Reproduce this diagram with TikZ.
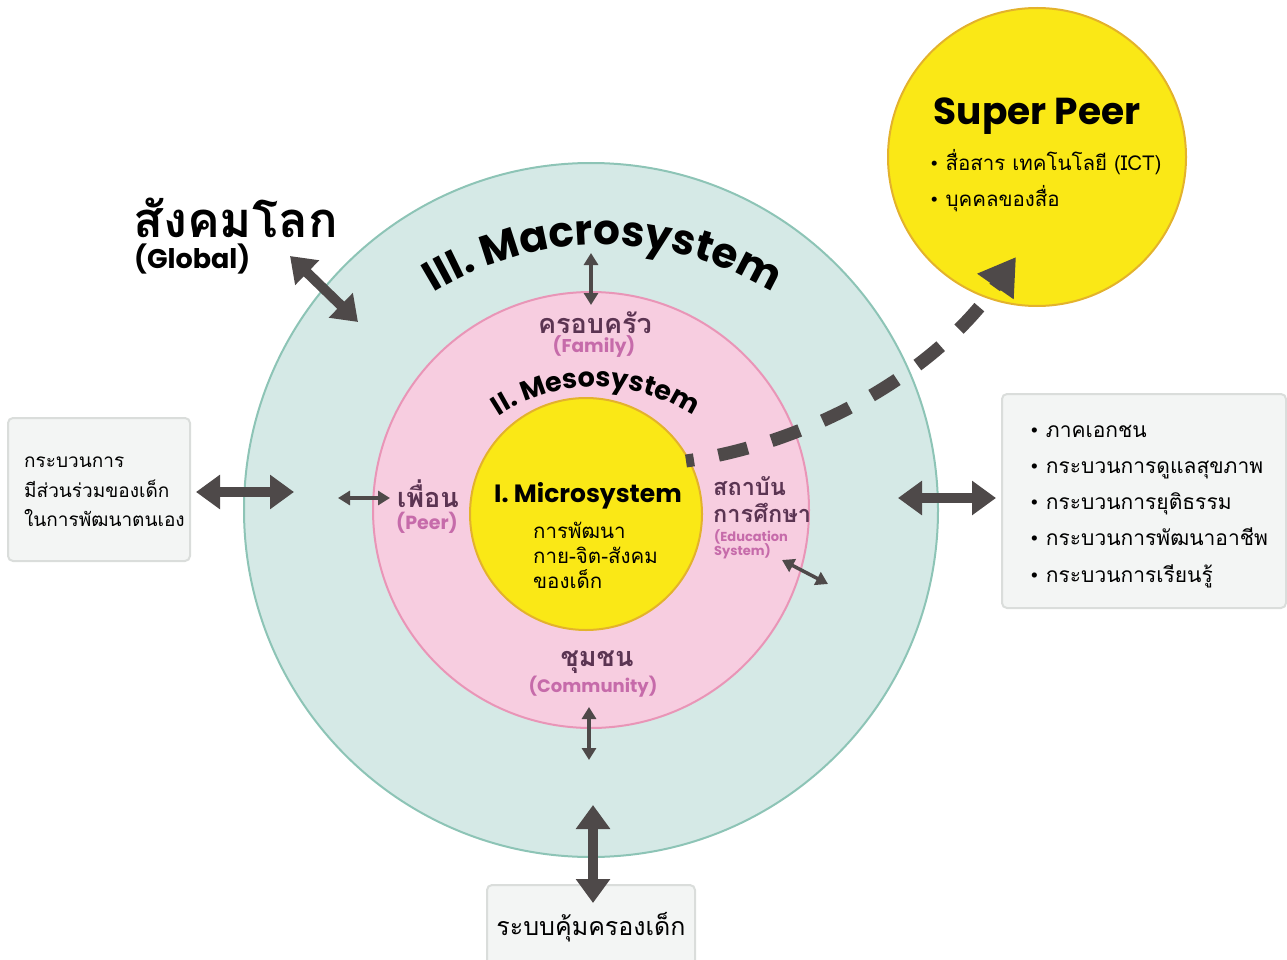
\documentclass[tikz,border=0pt]{standalone}
\usepackage{fontspec}
\setmainfont{Poppins}
\newfontfamily\thai[Script=Thai]{Loma}
\usetikzlibrary{arrows.meta,decorations.text}

\definecolor{macrofill}{HTML}{D5E9E6}
\definecolor{macroline}{HTML}{8DC4B6}
\definecolor{mesofill}{HTML}{F7CDE0}
\definecolor{mesoline}{HTML}{E995B7}
\definecolor{microfill}{HTML}{FAE816}
\definecolor{microline}{HTML}{E3B22C}
\definecolor{arrowgray}{HTML}{4E4949}
\definecolor{plum}{HTML}{5B3452}
\definecolor{orchid}{HTML}{C66BAA}
\definecolor{boxfill}{HTML}{F3F5F4}
\definecolor{boxline}{HTML}{DADDDB}

\newcommand{\fs}[1]{\fontsize{#1}{#1}\selectfont}
\newcommand{\bul}{{\normalfont\textbullet}}

\tikzset{
  ring/.style={circle, inner sep=0pt, line width=2pt},
  infobox/.style={draw=boxline, fill=boxfill, line width=2pt, rounded corners=5pt},
  bigarrow/.style={draw=arrowgray, line width=10pt,
    {Triangle[length=24pt,width=33pt]}-{Triangle[length=24pt,width=33pt]}},
  smallarrow/.style={draw=arrowgray, line width=3.5pt,
    {Triangle[length=12pt,width=14pt]}-{Triangle[length=12pt,width=14pt]}},
  thailabel/.style={text=plum, font=\thai\bfseries\fs{27}, inner sep=0pt, anchor=base},
  englabel/.style={text=orchid, font=\bfseries\fs{18}, inner sep=0pt, anchor=base},
  plain/.style={text=black, inner sep=0pt, anchor=base west},
}

\begin{document}
\begin{tikzpicture}[x=1pt,y=1pt]
\useasboundingbox (0,0) rectangle (1287,-960);

% nested system circles
\node[ring, draw=macroline, fill=macrofill, minimum size=694pt] (macro) at (591,-510) {};
\node[ring, draw=mesoline, fill=mesofill, minimum size=436pt] (meso) at (591,-510) {};
\node[ring, draw=microline, fill=microfill, minimum size=232pt] (micro) at (586,-514) {};

% super peer circle
\node[ring, draw=microline, fill=microfill, minimum size=298pt] (sp) at (1037,-157) {};

% side boxes
\draw[infobox] (8,-418) rectangle (190,-561);
\node[inner sep=0pt] (lbox) at (99,-489.5) {};
\draw[infobox] (1002,-394) rectangle (1286,-608);
\node[inner sep=0pt] (rbox) at (1144,-501) {};
\draw[infobox] (487,-885) rectangle (695,-975);
\node[inner sep=0pt] (bbox) at (591,-922) {};

% curved titles
\path[decorate, decoration={text along path, text align=center,
  text={|\bfseries\fs{42}|III. Macrosystem}}]
  (603,-570) ++(165:325pt) arc[start angle=165, end angle=15, radius=325pt];
\path[decorate, decoration={text along path, text align=center,
  text={|\bfseries\fs{27}|II. Mesosystem}}]
  (596,-565) ++(170:178pt) arc[start angle=170, end angle=10, radius=178pt];

% global label
\node[plain, font=\thai\bfseries\fs{49}] (glob) at (133,-237) {สังคมโลก};
\node[plain, font=\bfseries\fs{27}] (globen) at (134,-268) {(Global)};

% mesosystem members
\node[thailabel] (fam) at (595,-333) {ครอบครัว};
\node[englabel, font=\bfseries\fs{18.5}] (famen) at (594,-352) {(Family)};
\node[thailabel] (peer) at (428,-507) {เพื่อน};
\node[englabel, font=\bfseries\fs{19}] (peeren) at (427,-529) {(Peer)};
\node[thailabel, anchor=base west, font=\thai\bfseries\fs{23.5}] (edu1) at (713,-495) {สถาบัน};
\node[thailabel, anchor=base west, font=\thai\bfseries\fs{23.5}] (edu2) at (713,-522) {การศึกษา};
\node[englabel, anchor=base west, font=\bfseries\fs{13}] (edu3) at (714,-541) {(Education};
\node[englabel, anchor=base west, font=\bfseries\fs{13}] (edu4) at (714,-555) {System)};
\node[thailabel] (com) at (597,-666) {ชุมชน};
\node[englabel] (comen) at (593,-692) {(Community)};

% microsystem
\node[text=black, font=\bfseries\fs{25}, inner sep=0pt, anchor=base] (mictitle) at (588,-502) {I. Microsystem};
\node[plain, font=\thai\fs{20.5}] (mic1) at (533,-538) {การพัฒนา};
\node[plain, font=\thai\fs{20.5}] (mic2) at (533,-563) {กาย-จิต-สังคม};
\node[plain, font=\thai\fs{20.5}] (mic3) at (533,-588) {ของเด็ก};

% super peer text
\node[text=black, font=\bfseries\fs{37.5}, inner sep=0pt, anchor=base] (sptitle) at (1037,-125) {Super Peer};
\node[plain, font=\thai\fs{20.5}] (sp1) at (930,-171) {\bul\ สื่อสาร เทคโนโลยี (ICT)};
\node[plain, font=\thai\fs{20.5}] (sp2) at (930,-207) {\bul\ บุคคลของสื่อ};

% left box text
\node[plain, font=\thai\fs{19}] (lb1) at (24,-467) {กระบวนการ};
\node[plain, font=\thai\fs{19}] (lb2) at (24,-497) {มีส่วนร่วมของเด็ก};
\node[plain, font=\thai\fs{19}] (lb3) at (24,-526) {ในการพัฒนาตนเอง};

% right box text
\foreach \t [count=\i] in {ภาคเอกชน, กระบวนการดูแลสุขภาพ, กระบวนการยุติธรรม, กระบวนการพัฒนาอาชีพ, กระบวนการเรียนรู้}
  \node[plain, font=\thai\fs{21}] (rb\i) at (1030,-437-36.3*\i+36.3) {\bul\ \t};

% bottom box text
\node[text=black, font=\thai\fs{25}, inner sep=0pt, anchor=base] (bbt) at (591,-935) {ระบบคุ้มครองเด็ก};

% connector end points
\coordinate (ga1) at (290,-256);  \coordinate (ga2) at (358,-322);
\coordinate (la1) at (196,-492);  \coordinate (la2) at (294,-492);
\coordinate (ra1) at (898,-498);  \coordinate (ra2) at (996,-498);
\coordinate (ba1) at (593,-805);  \coordinate (ba2) at (593,-903);
\coordinate (ta1) at (591,-253);  \coordinate (ta2) at (591,-305);
\coordinate (pa1) at (338,-498);  \coordinate (pa2) at (390,-498);
\coordinate (ca1) at (589,-707);  \coordinate (ca2) at (589,-760);
\coordinate (ea1) at (782,-560);  \coordinate (ea2) at (828,-584);
\coordinate (ds) at (686,-461);   \coordinate (de) at (1016,-257);

% connectors
\draw[bigarrow] (ga1) -- (ga2);
\draw[bigarrow] (la1) -- (la2);
\draw[bigarrow] (ra1) -- (ra2);
\draw[bigarrow] (ba1) -- (ba2);
\draw[smallarrow] (ta1) -- (ta2);
\draw[smallarrow] (pa1) -- (pa2);
\draw[smallarrow] (ca1) -- (ca2);
\draw[smallarrow] (ea1) -- (ea2);

% dashed link to the super peer
\draw[arrowgray, line width=13pt, dash pattern=on 30pt off 25pt, dash phase=22pt,
  -{Triangle[length=36pt,width=42pt]}]
  (ds) .. controls (800,-445) and (930,-380) .. (de);
\end{tikzpicture}
\end{document}
